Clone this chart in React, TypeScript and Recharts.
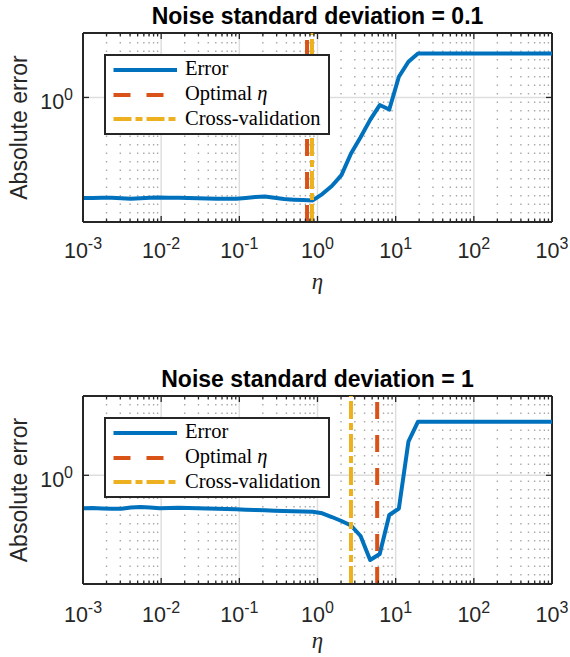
import React from 'react';
import { LineChart, Line, XAxis, YAxis, ReferenceLine } from 'recharts';

// eta grid (50 log-spaced samples from 1e-3 to 1e3)
const ETA = [
  0.001, 0.001326, 0.001758, 0.00233, 0.003089, 0.004095, 0.005429, 0.007197, 0.009541, 0.01265,
  0.01677, 0.02223, 0.02947, 0.03907, 0.05179, 0.06866, 0.09103, 0.1207, 0.16, 0.2121,
  0.2812, 0.3728, 0.4942, 0.6551, 0.8685, 1.151, 1.526, 2.024, 2.683, 3.556,
  4.715, 6.251, 8.286, 10.99, 14.56, 19.31, 25.6, 33.93, 44.98, 59.64,
  79.06, 104.8, 139.0, 184.2, 244.2, 323.7, 429.2, 569.0, 754.3, 1000,
];

// absolute error, noise sd = 0.1
const ERR_SD01 = [
  0.2726, 0.2726, 0.2733, 0.2733, 0.2716, 0.2701, 0.2716, 0.2733, 0.2744, 0.274,
  0.2733, 0.2729, 0.2719, 0.2712, 0.2705, 0.2698, 0.2698, 0.2726, 0.2761, 0.2779,
  0.2733, 0.2691, 0.267, 0.2656, 0.2642, 0.287, 0.3183, 0.3667, 0.4843, 0.5978,
  0.7485, 0.9065, 0.8553, 1.307, 1.586, 1.763, 1.763, 1.763, 1.763, 1.763,
  1.763, 1.763, 1.763, 1.763, 1.763, 1.763, 1.763, 1.763, 1.763, 1.763,
];

// absolute error, noise sd = 1
const ERR_SD1 = [
  0.6564, 0.6589, 0.6548, 0.6523, 0.6531, 0.6632, 0.6675, 0.6632, 0.6564, 0.6589,
  0.6606, 0.6589, 0.6564, 0.6548, 0.6531, 0.6506, 0.648, 0.6448, 0.6423, 0.6399,
  0.6366, 0.6342, 0.6318, 0.6301, 0.6285, 0.616, 0.5875, 0.5583, 0.5271, 0.4611,
  0.3394, 0.3664, 0.6027, 0.6548, 1.535, 1.982, 1.982, 1.982, 1.982, 1.982,
  1.982, 1.982, 1.982, 1.982, 1.982, 1.982, 1.982, 1.982, 1.982, 1.982,
];

const X_MAJOR = [0.001, 0.01, 0.1, 1, 10, 100, 1000];
const MULTS = [2, 3, 4, 5, 6, 7, 8, 9];
const X_MINOR = X_MAJOR.slice(0, -1).flatMap((d) => MULTS.map((m) => +(m * d).toPrecision(3)));
const Y_TICKS = [1];

const PANELS = [
  { title: 'Noise standard deviation = 0.1', errors: ERR_SD01, optimal: 0.735, cv: 0.85, yDomain: [0.2, 2.3] },
  { title: 'Noise standard deviation = 1', errors: ERR_SD1, optimal: 5.8, cv: 2.68, yDomain: [0.25, 2.75] },
];

const LAYOUT = [
  { top: 0, height: 300, plotH: 189, tickDy: 36, xlabDy: 67 },
  { top: 363, height: 294, plotH: 188, tickDy: 37.5, xlabDy: 64 },
];

const BLUE = '#0072BD';
const RED = '#D95319';
const YELLOW = '#EDB120';
const AXIS = '#262626';
const SANS = '"Liberation Sans", Arial, sans-serif';
const SERIF = '"Liberation Serif", "Times New Roman", serif';
const RED_DASH = '17 16';
const YELLOW_DASH = '18 4 7 4';

const PLOT_LEFT = 83;
const PLOT_TOP = 33;
const PLOT_W = 469;

const XTick = (props: any) => {
  const { x, y, payload, plotH, dy } = props;
  const v = payload.value;
  const major = X_MAJOR.includes(v);
  const len = major ? 6 : 3.5;
  return (
    <g>
      <line x1={x} x2={x} y1={y} y2={y - len} stroke={AXIS} strokeWidth={1.3} />
      <line x1={x} x2={x} y1={y - plotH} y2={y - plotH + len} stroke={AXIS} strokeWidth={1.3} />
      {major && (
        <text x={x} y={y + dy} textAnchor="middle" fill={AXIS} fontFamily={SANS}>
          <tspan fontSize={21.5}>10</tspan>
          <tspan fontSize={16} dy={-9}>{Math.round(Math.log10(v))}</tspan>
        </text>
      )}
    </g>
  );
};

const YTick = (props: any) => {
  const { x, y, payload, plotW } = props;
  const v = payload.value;
  return (
    <g>
      <line x1={x} x2={x + 6} y1={y} y2={y} stroke={AXIS} strokeWidth={1.3} />
      <line x1={x + plotW} x2={x + plotW - 6} y1={y} y2={y} stroke={AXIS} strokeWidth={1.3} />
      <text x={x - 10} y={y + 12} textAnchor="end" fill={AXIS} fontFamily={SANS}>
        <tspan fontSize={21.5}>10</tspan>
        <tspan fontSize={16} dy={-9}>{Math.round(Math.log10(v))}</tspan>
      </text>
    </g>
  );
};

const LegendBox = () => (
  <g transform="translate(104,54)">
    <rect x={1} y={1} width={224} height={79} fill="#fff" stroke={AXIS} strokeWidth={2} />
    <line x1={9.5} x2={73} y1={16} y2={16} stroke={BLUE} strokeWidth={4} />
    <line x1={9.5} x2={73} y1={41} y2={41} stroke={RED} strokeWidth={4} strokeDasharray={RED_DASH} />
    <line x1={9.5} x2={73} y1={65} y2={65} stroke={YELLOW} strokeWidth={4} strokeDasharray={YELLOW_DASH} />
    <g fontFamily={SERIF} fontSize={20.5} fill="#000">
      <text x={81} y={21}>Error</text>
      <text x={81} y={46}>
        Optimal <tspan fontStyle="italic">η</tspan>
      </text>
      <text x={81} y={70.5}>Cross-validation</text>
    </g>
  </g>
);

const Panel = ({ panel, layout }: any) => {
  const data = ETA.map((eta, i) => ({ eta, err: panel.errors[i] }));
  const { top, height, plotH, tickDy, xlabDy } = layout;
  const plotBottom = PLOT_TOP + plotH;
  return (
    <div style={{ position: 'absolute', left: 0, top, width: 570, height }}>
      <LineChart width={570} height={height} data={data} margin={{ top: PLOT_TOP, right: 570 - PLOT_LEFT - PLOT_W, bottom: 0, left: 0 }}>
        {X_MINOR.map((v) => (
          <ReferenceLine key={'m' + v} x={v} stroke="#a8a8a8" strokeWidth={1.4} strokeDasharray="1.5 7" />
        ))}
        {X_MAJOR.slice(1, -1).map((v) => (
          <ReferenceLine key={'M' + v} x={v} stroke="#dedede" strokeWidth={1.5} />
        ))}
        <ReferenceLine y={1} stroke="#dedede" strokeWidth={1.5} />
        <XAxis
          dataKey="eta"
          type="number"
          scale="log"
          domain={[0.001, 1000]}
          allowDataOverflow
          ticks={[...X_MAJOR, ...X_MINOR]}
          interval={0}
          tickSize={0}
          tickMargin={0}
          tickLine={false}
          axisLine={{ stroke: AXIS, strokeWidth: 2 }}
          height={height - PLOT_TOP - plotH}
          tick={<XTick plotH={plotH} dy={tickDy} />}
        />
        <YAxis
          type="number"
          scale="log"
          domain={panel.yDomain}
          allowDataOverflow
          ticks={Y_TICKS}
          interval={0}
          tickSize={0}
          tickMargin={0}
          tickLine={false}
          axisLine={{ stroke: AXIS, strokeWidth: 2 }}
          width={PLOT_LEFT}
          tick={<YTick plotW={PLOT_W} />}
        />
        <ReferenceLine x={1000} stroke={AXIS} strokeWidth={2} />
        <ReferenceLine y={panel.yDomain[1]} stroke={AXIS} strokeWidth={2} />
        <Line
          dataKey="err"
          type="linear"
          stroke={BLUE}
          strokeWidth={4}
          strokeLinejoin="round"
          dot={false}
          activeDot={false}
          isAnimationActive={false}
        />
        <ReferenceLine x={panel.optimal} stroke={RED} strokeWidth={4} strokeDasharray={RED_DASH} />
        <ReferenceLine x={panel.cv} stroke={YELLOW} strokeWidth={4} strokeDasharray={YELLOW_DASH} />
      </LineChart>
      <svg width={570} height={height} style={{ position: 'absolute', left: 0, top: 0, pointerEvents: 'none' }}>
        <text x={PLOT_LEFT + PLOT_W / 2} y={24} textAnchor="middle" fontFamily={SANS} fontWeight="bold" fontSize={23} fill="#000">
          {panel.title}
        </text>
        <text
          transform={`translate(27,${PLOT_TOP + plotH / 2}) rotate(-90)`}
          textAnchor="middle"
          fontFamily={SANS}
          fontSize={23}
          fill={AXIS}
        >
          Absolute error
        </text>
        <text x={PLOT_LEFT + PLOT_W / 2} y={plotBottom + xlabDy} textAnchor="middle" fontFamily={SERIF} fontStyle="italic" fontSize={23} fill={AXIS}>
          η
        </text>
        <LegendBox />
      </svg>
    </div>
  );
};

export default function App() {
  return (
    <div style={{ position: 'absolute', left: 0, top: 0, width: 570, height: 657, background: '#fff' }}>
      {PANELS.map((p, i) => (
        <Panel key={p.title} panel={p} layout={LAYOUT[i]} />
      ))}
    </div>
  );
}
